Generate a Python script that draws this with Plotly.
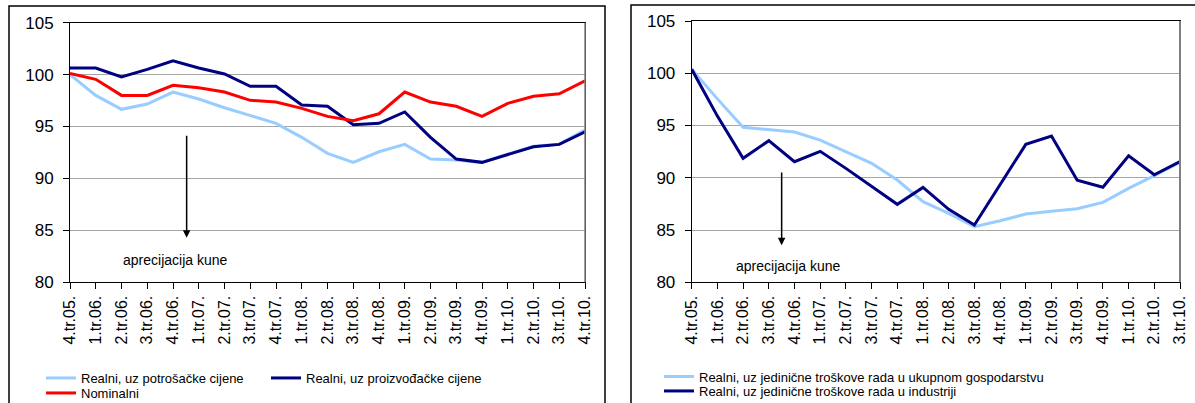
import plotly.graph_objects as go
from plotly.subplots import make_subplots

# quarters
quarters_left = ["4.tr.05.", "1.tr.06.", "2.tr.06.", "3.tr.06.", "4.tr.06.", "1.tr.07.", "2.tr.07.",
                 "3.tr.07.", "4.tr.07.", "1.tr.08.", "2.tr.08.", "3.tr.08.", "4.tr.08.", "1.tr.09.",
                 "2.tr.09.", "3.tr.09.", "4.tr.09.", "1.tr.10.", "2.tr.10.", "3.tr.10.", "4.tr.10."]
quarters_right = quarters_left[:-1]

# left panel
realni_potrosacke = [100.0, 98.0, 96.66, 97.17, 98.32, 97.65, 96.81, 96.03, 95.31, 93.96, 92.42,
                     91.55, 92.57, 93.28, 91.87, 91.77, 91.55, 92.35, 93.1, 93.3, 94.66]
realni_proizvodacke = [100.64, 100.64, 99.77, 100.5, 101.34, 100.64, 100.06, 98.87, 98.87, 97.07, 96.95,
                       95.17, 95.31, 96.4, 93.96, 91.87, 91.55, 92.32, 93.05, 93.28, 94.5]
nominalni = [100.12, 99.55, 98.0, 98.0, 98.97, 98.74, 98.32, 97.52, 97.36, 96.75, 95.98,
             95.56, 96.23, 98.32, 97.36, 96.95, 95.98, 97.23, 97.91, 98.16, 99.41]

# right panel
jtr_ukupno = [100.38, 97.55, 94.83, 94.6, 94.37, 93.6, 92.5, 91.38, 89.78, 87.71,
              86.6, 85.32, 85.89, 86.53, 86.79, 87.04, 87.65, 88.99, 90.2, 91.48]
jtr_industrija = [100.38, 95.9, 91.86, 93.55, 91.54, 92.53, 90.9, 89.14, 87.46, 89.08,
                  86.98, 85.48, 89.4, 93.2, 94.0, 89.76, 89.09, 92.11, 90.29, 91.54]

W, H = 1195, 403
FONT = "Arial, Liberation Sans, sans-serif"
LIGHT = "#99ccff"
NAVY = "#000080"
RED = "#ff0000"


def px(x):
    return x / W


def py(y):
    return 1 - y / H


fig = make_subplots(rows=1, cols=2)

fig.add_trace(go.Scatter(x=quarters_left, y=realni_potrosacke, mode="lines", name="Realni, uz potrošačke cijene",
                         line=dict(color=LIGHT, width=3), legend="legend"), row=1, col=1)
fig.add_trace(go.Scatter(x=quarters_left, y=realni_proizvodacke, mode="lines", name="Realni, uz proizvođačke cijene",
                         line=dict(color=NAVY, width=3), legend="legend2"), row=1, col=1)
fig.add_trace(go.Scatter(x=quarters_left, y=nominalni, mode="lines", name="Nominalni",
                         line=dict(color=RED, width=3), legend="legend3"), row=1, col=1)

fig.add_trace(go.Scatter(x=quarters_right, y=jtr_ukupno, mode="lines",
                         name="Realni, uz jedinične troškove rada u ukupnom gospodarstvu",
                         line=dict(color=LIGHT, width=3), legend="legend4"), row=1, col=2)
fig.add_trace(go.Scatter(x=quarters_right, y=jtr_industrija, mode="lines",
                         name="Realni, uz jedinične troškove rada u industriji",
                         line=dict(color=NAVY, width=3), legend="legend5"), row=1, col=2)

fig.update_xaxes(type="category", tickangle=-90, showgrid=False, zeroline=False,
                 showline=True, linecolor="black", mirror=True, ticks="outside", ticklen=6,
                 tickcolor="black", tickfont=dict(family=FONT, size=16, color="black"))
fig.update_yaxes(range=[80, 105], dtick=5, showgrid=True, gridcolor="#a6a6a6", gridwidth=1,
                 zeroline=False, showline=True, linecolor="black", mirror=True,
                 ticks="outside", ticklen=6, tickcolor="black", ticklabelstandoff=6,
                 tickfont=dict(family=FONT, size=17, color="black"))

fig.update_layout(
    xaxis=dict(domain=[px(70), px(585)], range=[0, 20]),
    xaxis2=dict(domain=[px(691.7), px(1180)], range=[0, 19]),
    yaxis=dict(domain=[py(282.3), py(22.7)]),
    yaxis2=dict(domain=[py(282.3), py(21)]),
)

leg = dict(orientation="h", bgcolor="rgba(0,0,0,0)", xanchor="left", yanchor="middle",
           font=dict(family=FONT, size=13, color="black"), itemwidth=30)
fig.update_layout(
    legend=dict(leg, x=px(41), y=py(378)),
    legend2=dict(leg, x=px(266), y=py(378)),
    legend3=dict(leg, x=px(41), y=py(393)),
    legend4=dict(leg, x=px(659), y=py(376.5)),
    legend5=dict(leg, x=px(659), y=py(391)),
)

# appreciation arrows
fig.add_annotation(x=4.53, y=84.3, ax=4.53, ay=94.25, xref="x", yref="y", axref="x", ayref="y",
                   showarrow=True, arrowhead=2, arrowsize=1, arrowwidth=1.5, arrowcolor="black", text="")
fig.add_annotation(x=4.08, y=82.1, xref="x", yref="y", text="aprecijacija kune", showarrow=False,
                   font=dict(family=FONT, size=14, color="black"))
fig.add_annotation(x=3.5, y=83.55, ax=3.5, ay=90.65, xref="x2", yref="y2", axref="x2", ayref="y2",
                   showarrow=True, arrowhead=2, arrowsize=1, arrowwidth=1.5, arrowcolor="black", text="")
fig.add_annotation(x=3.75, y=81.55, xref="x2", yref="y2", text="aprecijacija kune", showarrow=False,
                   font=dict(family=FONT, size=14, color="black"))

# outer chart frames
fig.add_shape(type="rect", xref="paper", yref="paper", x0=px(9), x1=px(605), y0=-0.1, y1=py(6),
              line=dict(color="black", width=1.5), layer="below")
fig.add_shape(type="rect", xref="paper", yref="paper", x0=px(631), x1=1.1, y0=-0.1, y1=py(5),
              line=dict(color="black", width=1.5), layer="below")
# grey right edge of each plot area
fig.add_shape(type="line", xref="x domain", yref="y domain", x0=1, x1=1, y0=0, y1=1,
              line=dict(color="#808080", width=1.5))
fig.add_shape(type="line", xref="x2 domain", yref="y2 domain", x0=1, x1=1, y0=0, y1=1,
              line=dict(color="#808080", width=2))

fig.update_layout(width=W, height=H, margin=dict(l=0, r=0, t=0, b=0, autoexpand=False),
                  paper_bgcolor="white", plot_bgcolor="white", showlegend=True)

fig.write_html("out.html", config={"displayModeBar": False},
               post_script="document.body.style.margin='0';")
